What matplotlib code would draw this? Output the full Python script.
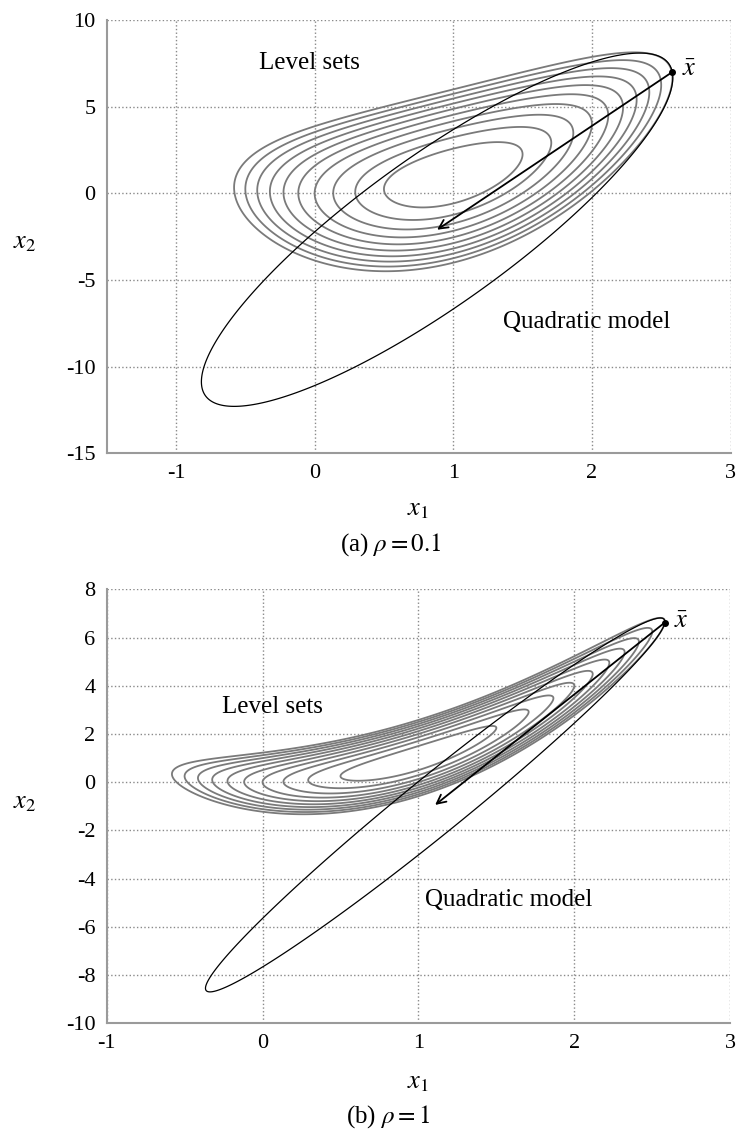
import numpy as np
import matplotlib.pyplot as plt

plt.rcParams['font.family'] = ['Liberation Serif', 'DejaVu Serif']
plt.rcParams['mathtext.fontset'] = 'stix'

# panel parameters
rho_vals = [0.1, 1.0]
xbar_pts = [(2.58, 7.0), (2.58, 6.62)]
level_vals = [0.25, 0.5, 0.75, 1.0, 1.25, 1.5, 1.75, 2.0, 2.25, 2.5]
xlims = [(-1.5, 3), (-1, 3)]
ylims = [(-15, 10), (-10, 8)]
xticks_all = [[-1, 0, 1, 2, 3], [-1, 0, 1, 2, 3]]
yticks_all = [[-15, -10, -5, 0, 5, 10], [-10, -8, -6, -4, -2, 0, 2, 4, 6, 8]]
captions = [r'(a) $\rho = 0.1$', r'(b) $\rho = 1$']
level_txt = [(-0.40, 7.5), (-0.26, 3.1)]
quad_txt = [(1.36, -7.4), (1.04, -4.9)]
xbar_txt = [(2.65, 7.1), (2.64, 6.66)]

# figure pixel layout
axes_rects = [[0.1444, 0.5999, 0.8441, 0.3824], [0.1443, 0.0968, 0.8438, 0.3831]]
x1_lab_y = [510, 1083]
x2_lab_y = [243, 803]
cap_y = [545, 1117]
cap_x = [391, 388]


def f(x1, x2, rho):
    return (1 - x1)**2 + rho * (x2 - x1**2)**2


def grad(x1, x2, rho):
    g1 = -2 * (1 - x1) - 4 * rho * x1 * (x2 - x1**2)
    g2 = 2 * rho * (x2 - x1**2)
    return np.array([g1, g2])


def hess(x1, x2, rho):
    h11 = 2 - 4 * rho * (x2 - x1**2) + 8 * rho * x1**2
    h12 = -4 * rho * x1
    h22 = 2 * rho
    return np.array([[h11, h12], [h12, h22]])


W, H = 739, 1133
fig = plt.figure(figsize=(W / 100, H / 100), dpi=100)

for i in range(2):
    ax = fig.add_axes(axes_rects[i])
    rho = rho_vals[i]
    xb = np.array(xbar_pts[i])
    x1 = np.linspace(xlims[i][0], xlims[i][1], 900)
    x2 = np.linspace(ylims[i][0], ylims[i][1], 900)
    X1, X2 = np.meshgrid(x1, x2)
    Z = f(X1, X2, rho)
    ax.contour(X1, X2, Z, levels=level_vals, colors='#7a7a7a', linewidths=1.3)

    # quadratic model around xbar
    g = grad(xb[0], xb[1], rho)
    Hm = hess(xb[0], xb[1], rho)
    D1 = X1 - xb[0]
    D2 = X2 - xb[1]
    M = g[0] * D1 + g[1] * D2 + 0.5 * (Hm[0, 0] * D1**2 + 2 * Hm[0, 1] * D1 * D2 + Hm[1, 1] * D2**2)
    ax.contour(X1, X2, M, levels=[0], colors='black', linewidths=0.9)

    newton = xb - np.linalg.solve(Hm, g)
    ax.annotate('', xy=newton, xytext=xb,
                arrowprops=dict(arrowstyle='->', lw=1.3, color='black', mutation_scale=16,
                                shrinkA=0, shrinkB=0))
    ax.plot(xb[0], xb[1], 'o', color='black', ms=4)

    ax.text(level_txt[i][0], level_txt[i][1], 'Level sets', fontsize=18, ha='left', va='center')
    ax.text(quad_txt[i][0], quad_txt[i][1], 'Quadratic model', fontsize=18, ha='left', va='center')
    ax.text(xbar_txt[i][0], xbar_txt[i][1], r'$\bar{x}$', fontsize=19, ha='left', va='center')

    ax.set_xlim(xlims[i])
    ax.set_ylim(ylims[i])
    ax.set_xticks(xticks_all[i])
    ax.set_yticks(yticks_all[i])
    ax.set_xticklabels([str(t) for t in xticks_all[i]])
    ax.set_yticklabels([str(t) for t in yticks_all[i]])
    ax.tick_params(length=0, labelsize=16, pad=8)
    ax.grid(True, ls=':', color='#8a8a8a', lw=1.0)
    ax.set_axisbelow(True)
    for s in ['top', 'right']:
        ax.spines[s].set_visible(False)
    for s in ['left', 'bottom']:
        ax.spines[s].set_color('#9a9a9a')
        ax.spines[s].set_linewidth(1.5)

    fig.text(417.5 / W, 1 - x1_lab_y[i] / H, r'$x_1$', fontsize=19, ha='center', va='center')
    fig.text(25 / W, 1 - x2_lab_y[i] / H, r'$x_2$', fontsize=19, ha='center', va='center')
    fig.text(cap_x[i] / W, 1 - cap_y[i] / H, captions[i], fontsize=18, ha='center', va='center')

fig.savefig('out.png', dpi=100)
